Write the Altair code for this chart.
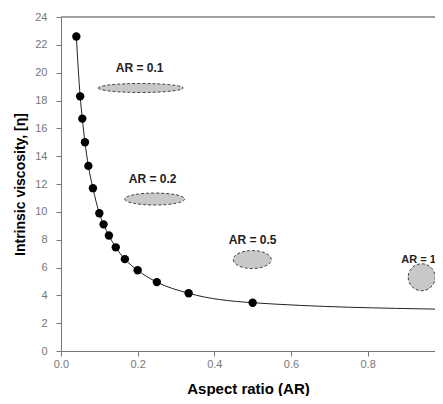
import altair as alt
import pandas as pd

# Data
aspect_ratio = [0.04, 0.05, 0.0556, 0.0625, 0.0714, 0.0833, 0.1, 0.111, 0.125,
                0.1429, 0.1667, 0.2, 0.25, 0.333, 0.5, 1.0]
viscosity = [22.6, 18.3, 16.7, 15.0, 13.3, 11.7, 9.9, 9.1, 8.3,
             7.45, 6.6, 5.8, 4.95, 4.15, 3.47, 3.0]

# Ellipse annotations (shape sketches of particles)
ell_labels = ["AR = 0.1", "AR = 0.2", "AR = 0.5", "AR = 1"]
ell_x = [0.208, 0.2445, 0.499, 0.941]
ell_y = [18.9, 10.92, 6.57, 5.3]
ell_w = [85, 60, 38, 27]
ell_h = [9, 12, 18, 27]
lab_x = [0.205, 0.239, 0.5, 0.933]
lab_y = [20.34, 12.38, 8.0, 6.55]
lab_size = [12, 12, 12, 11]

x_ticks = [0, 0.2, 0.4, 0.6, 0.8]
y_ticks = [0, 2, 4, 6, 8, 10, 12, 14, 16, 18, 20, 22, 24]

df = pd.DataFrame({"ar": aspect_ratio, "eta": viscosity})


def ellipse_path(w, h):
    r = h / w
    return f"M -1 0 A 1 {r} 0 1 0 1 0 A 1 {r} 0 1 0 -1 0 Z"


ell_df = pd.DataFrame({
    "label": ell_labels,
    "x": ell_x,
    "y": ell_y,
    "path": [ellipse_path(w, h) for w, h in zip(ell_w, ell_h)],
    "size": [w * w for w in ell_w],
    "lx": lab_x,
    "ly": lab_y,
    "fs": lab_size,
})

PLOT_W = 374
xscale = alt.Scale(domain=[0, PLOT_W / 383.3], nice=False, zero=False)
yscale = alt.Scale(domain=[0, 24], nice=False)

xaxis = alt.Axis(title="Aspect ratio (AR)", values=x_ticks, grid=False,
                 tickSize=5, labelPadding=2, titlePadding=12,
                 labelFontSize=11, labelColor="#777", labelFont="Liberation Sans",
                 titleFont="Liberation Sans", titleFontSize=15, titleFontWeight="bold",
                 titleColor="#000", domainColor="#777", tickColor="#777",
                 labelFlush=False, labelOverlap=False)
yaxis = alt.Axis(title="Intrinsic viscosity, [η]", values=y_ticks, grid=False,
                 tickSize=5, labelPadding=9, titlePadding=7,
                 labelFontSize=11, labelColor="#777", labelFont="Liberation Sans",
                 titleFont="Liberation Sans", titleFontSize=14, titleFontWeight="bold",
                 titleColor="#000", domainColor="#777", tickColor="#777",
                 labelOverlap=False, labelFlush=False)


def X(field):
    return alt.X(field, type="quantitative", scale=xscale, axis=xaxis)


def Y(field):
    return alt.Y(field, type="quantitative", scale=yscale, axis=yaxis)


base = alt.Chart(df)

line = base.mark_line(color="#222", strokeWidth=1, interpolate="monotone").encode(
    x=X("ar"), y=Y("eta"),
)

points = base.mark_point(filled=True, color="#000", size=70, opacity=1).encode(
    x=X("ar"), y=Y("eta"),
)

ellipses = alt.Chart(ell_df).mark_point(
    filled=True, fill="#c8c8c8", stroke="#444", strokeWidth=1,
    strokeDash=[3, 2], opacity=1, fillOpacity=1
).encode(
    x=X("x"), y=Y("y"),
    shape=alt.Shape("path:N", scale=None, legend=None),
    size=alt.Size("size:Q", scale=None, legend=None),
)

labels = alt.Chart(ell_df).mark_text(
    font="Liberation Sans", fontWeight="bold", color="#222"
).encode(
    x=X("lx"), y=Y("ly"),
    text="label:N",
    size=alt.Size("fs:Q", scale=None, legend=None),
)

top_border = alt.Chart(ell_df).mark_rule(color="#999", strokeWidth=1).encode(
    x=alt.value(0), x2=alt.value(PLOT_W), y=alt.value(0),
)

chart = alt.layer(top_border, line, points, ellipses, labels).properties(
    width=PLOT_W, height=334,
    autosize=alt.AutoSizeParams(type="none"),
    padding={"left": 53, "top": 9, "right": 0, "bottom": 45},
).configure_view(stroke=None).configure_axis(labelOverlap=False)

chart.save("out.html", embed_options={"renderer": "svg", "actions": False})
